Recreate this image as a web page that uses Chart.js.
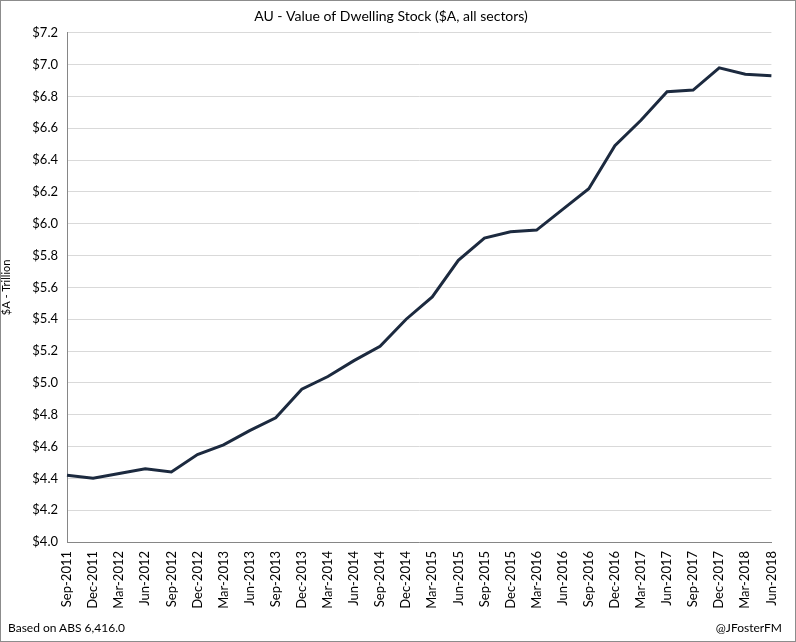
<!DOCTYPE html>
<html lang="en">
<head>
    <meta charset="UTF-8">
    <title>AU - Value of Dwelling Stock</title>
    <script src="https://cdn.jsdelivr.net/npm/chart.js@4/dist/chart.umd.min.js"></script>
    <style>
        body { margin: 0; background: #fff; font-family: Lato, sans-serif; }
        #wrap { position: relative; width: 796px; height: 642px; }
        #frame { position: absolute; left: 0; top: 0; right: 0; bottom: 0; border: 1px solid #8c8c8c; pointer-events: none; }
        .note { position: absolute; top: 620px; font-size: 12px; color: #000; }
    </style>
</head>
<body>
<div id="wrap">
    <canvas id="stockChart" width="796" height="642"></canvas>
    <div id="frame"></div>
    <div class="note" style="left: 8px;">Based on ABS 6,416.0</div>
    <div class="note" style="right: 14px;">@JFosterFM</div>
</div>

<script>
    // quarterly labels
    const quarters = [
        'Sep-2011', 'Dec-2011', 'Mar-2012', 'Jun-2012', 'Sep-2012', 'Dec-2012', 'Mar-2013',
        'Jun-2013', 'Sep-2013', 'Dec-2013', 'Mar-2014', 'Jun-2014', 'Sep-2014', 'Dec-2014',
        'Mar-2015', 'Jun-2015', 'Sep-2015', 'Dec-2015', 'Mar-2016', 'Jun-2016', 'Sep-2016',
        'Dec-2016', 'Mar-2017', 'Jun-2017', 'Sep-2017', 'Dec-2017', 'Mar-2018', 'Jun-2018'
    ];

    // value of dwelling stock, $A trillion
    const dwellingValue = [
        4.42, 4.40, 4.43, 4.46, 4.44, 4.55, 4.61,
        4.70, 4.78, 4.96, 5.04, 5.14, 5.23, 5.40,
        5.54, 5.77, 5.91, 5.95, 5.96, 6.09, 6.22,
        6.49, 6.65, 6.83, 6.84, 6.98, 6.94, 6.93
    ];

    const yMin = 4.0;
    const yMax = 7.2;
    const yStep = 0.2;

    const ctx = document.getElementById('stockChart').getContext('2d');
    const chart = new Chart(ctx, {
        type: 'line',
        data: {
            labels: quarters,
            datasets: [{
                label: 'Value of Dwelling Stock',
                data: dwellingValue,
                borderColor: '#1c2a3f',
                borderWidth: 3,
                pointRadius: 0,
                tension: 0
            }]
        },
        options: {
            responsive: false,
            animation: false,
            layout: { padding: { left: 0, right: 14, top: 0, bottom: 0 } },
            plugins: {
                legend: { display: false },
                tooltip: { enabled: false },
                title: {
                    display: true,
                    text: 'AU - Value of Dwelling Stock ($A, all sectors)',
                    color: '#000',
                    font: { family: 'Lato', size: 14, weight: 'normal' },
                    padding: { top: 8, bottom: 8 }
                }
            },
            scales: {
                x: {
                    offset: false,
                    grid: { display: false, drawTicks: false },
                    border: { color: '#868686', width: 1 },
                    ticks: {
                        autoSkip: false,
                        minRotation: 90,
                        maxRotation: 90,
                        padding: 9,
                        color: '#000',
                        font: { family: 'Lato', size: 13 }
                    },
                    afterFit: (scale) => { scale.height = 100; }
                },
                y: {
                    min: yMin,
                    max: yMax,
                    grid: { color: '#d9d9d9', drawTicks: false },
                    border: { color: '#868686', width: 1 },
                    title: {
                        display: true,
                        text: '$A - Trillion',
                        color: '#000',
                        font: { family: 'Lato', size: 11 },
                        padding: { top: 0, bottom: 0 }
                    },
                    ticks: {
                        stepSize: yStep,
                        padding: 9,
                        color: '#000',
                        font: { family: 'Lato', size: 13 },
                        callback: (v) => '$' + Number(v).toFixed(1)
                    },
                    afterFit: (scale) => { scale.width = 67; }
                }
            }
        }
    });
</script>
</body>
</html>
